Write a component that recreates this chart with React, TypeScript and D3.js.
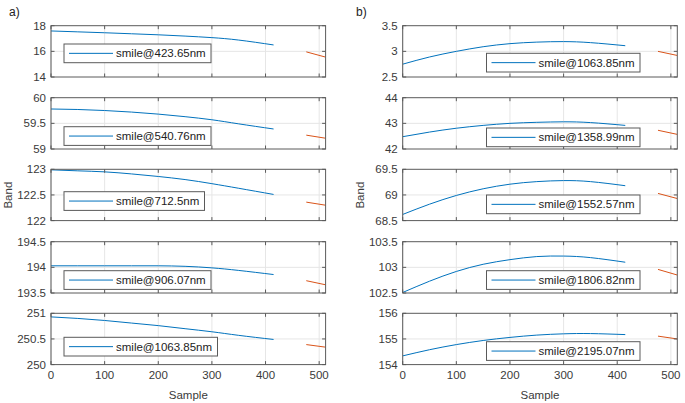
import React from "react";
import * as d3 from "d3";

// ---- data ----
const blueSamples = [0, 50, 100, 150, 200, 250, 300, 350, 415];
const orangeSamples = [476, 512];

const leftLabels = ["smile@423.65nm", "smile@540.76nm", "smile@712.5nm", "smile@906.07nm", "smile@1063.85nm"];
const rightLabels = ["smile@1063.85nm", "smile@1358.99nm", "smile@1552.57nm", "smile@1806.82nm", "smile@2195.07nm"];

const leftDomains = [[14, 18], [59, 60], [122, 123], [193.5, 194.5], [250, 251]];
const rightDomains = [[2.5, 3.5], [42, 44], [68.5, 69.5], [102.5, 103.5], [154, 156]];

const leftTicks = [["14", "16", "18"], ["59", "59.5", "60"], ["122", "122.5", "123"], ["193.5", "194", "194.5"], ["250", "250.5", "251"]];
const rightTicks = [["2.5", "3", "3.5"], ["42", "43", "44"], ["68.5", "69", "69.5"], ["102.5", "103", "103.5"], ["154", "155", "156"]];

const leftBlue = [
  [17.59, 17.52, 17.45, 17.37, 17.29, 17.19, 17.07, 16.88, 16.5],
  [59.78, 59.77, 59.75, 59.72, 59.68, 59.63, 59.57, 59.49, 59.39],
  [122.99, 122.97, 122.95, 122.91, 122.86, 122.8, 122.72, 122.63, 122.51],
  [194.03, 194.03, 194.03, 194.03, 194.03, 194.02, 193.99, 193.94, 193.86],
  [250.93, 250.9, 250.86, 250.81, 250.76, 250.7, 250.64, 250.57, 250.49],
];
const rightBlue = [
  [2.75, 2.89, 3.0, 3.09, 3.15, 3.18, 3.19, 3.17, 3.11],
  [42.48, 42.66, 42.81, 42.92, 43.0, 43.04, 43.06, 43.03, 42.92],
  [68.62, 68.82, 68.99, 69.12, 69.21, 69.26, 69.28, 69.26, 69.18],
  [102.51, 102.73, 102.92, 103.06, 103.15, 103.21, 103.22, 103.19, 103.1],
  [154.34, 154.58, 154.78, 154.94, 155.06, 155.15, 155.2, 155.21, 155.17],
];
const leftOrange = [[15.96, 15.55], [59.27, 59.21], [122.36, 122.3], [193.74, 193.66], [250.39, 250.34]];
const rightOrange = [[3.0, 2.92], [42.73, 42.57], [69.03, 68.93], [102.96, 102.85], [155.11, 155.0]];

const xTicks = [0, 100, 200, 300, 400, 500];
const xDomain = [0, 512];

// ---- layout ----
const W = 685, H = 403;
const tops = [25.7, 97.7, 169.3, 241.7, 313.3];
const plotH = 51.3;
const FONT = "'Liberation Sans', Arial, Helvetica, sans-serif";
const BLUE = "#0072BD";
const ORANGE = "#D95319";
const AXIS = "#5a5a5a";
const TXT = "#3a3a3a";
const GRID = "#e6e6e6";

const columns = [
  { x0: 51, x1: 325.6, labels: leftLabels, domains: leftDomains, ticks: leftTicks, blue: leftBlue, orange: leftOrange,
    legendX: 64, legendY: [44, 126.7, 191.7, 270.7, 337.3], tag: "a)", tagX: 9, bandX: 12 },
  { x0: 402.7, x1: 677.3, labels: rightLabels, domains: rightDomains, ticks: rightTicks, blue: rightBlue, orange: rightOrange,
    legendX: 486.5, legendY: [53.3, 128, 195, 270.7, 341.7], tag: "b)", tagX: 356, bandX: 364 },
];

function Panel({ col, i }: any) {
  const top = tops[i];
  const x = d3.scaleLinear().domain(xDomain).range([col.x0, col.x1]);
  const dom = col.domains[i];
  const y = d3.scaleLinear().domain(dom).range([top + plotH, top]);
  const yVals = [dom[0], (dom[0] + dom[1]) / 2, dom[1]];
  const line = d3.line<[number, number]>().x(d => x(d[0])).y(d => y(d[1])).curve(d3.curveNatural);
  const bluePts: [number, number][] = blueSamples.map((s, k) => [s, col.blue[i][k]]);
  const orangePts: [number, number][] = orangeSamples.map((s, k) => [s, col.orange[i][k]]);
  const clipId = `clip-${col.tag[0]}-${i}`;
  const label = col.labels[i];
  const lw = 56 + 6.5 * label.length;
  const lx = col.legendX, ly = col.legendY[i], lh = 18.7;
  const tl = 3.5;
  return (
    <g>
      <defs>
        <clipPath id={clipId}>
          <rect x={col.x0} y={top} width={col.x1 - col.x0} height={plotH} />
        </clipPath>
      </defs>
      {xTicks.map(t => (
        <line key={"gx" + t} x1={x(t)} x2={x(t)} y1={top} y2={top + plotH} stroke={GRID} strokeWidth={1} />
      ))}
      <line x1={col.x0} x2={col.x1} y1={y(yVals[1])} y2={y(yVals[1])} stroke={GRID} strokeWidth={1} />
      <g clipPath={`url(#${clipId})`}>
        <path d={line(bluePts) || ""} fill="none" stroke={BLUE} strokeWidth={1} />
        <path d={line(orangePts) || ""} fill="none" stroke={ORANGE} strokeWidth={1} />
      </g>
      <rect x={col.x0} y={top} width={col.x1 - col.x0} height={plotH} fill="none" stroke={AXIS} strokeWidth={1} />
      {xTicks.map(t => (
        <g key={"tx" + t}>
          <line x1={x(t)} x2={x(t)} y1={top + plotH} y2={top + plotH - tl} stroke={AXIS} />
          <line x1={x(t)} x2={x(t)} y1={top} y2={top + tl} stroke={AXIS} />
        </g>
      ))}
      {yVals.map((v, k) => (
        <g key={"ty" + k}>
          <line x1={col.x0} x2={col.x0 + tl} y1={y(v)} y2={y(v)} stroke={AXIS} />
          <line x1={col.x1} x2={col.x1 - tl} y1={y(v)} y2={y(v)} stroke={AXIS} />
          <text x={col.x0 - 5} y={y(v)} dy="0.35em" textAnchor="end" fontSize={11.5} fill={TXT} fontFamily={FONT}>
            {col.ticks[i][k]}
          </text>
        </g>
      ))}
      {i === 4 && xTicks.map(t => (
        <text key={"xl" + t} x={x(t)} y={top + plotH + 14} textAnchor="middle" fontSize={11.5} fill={TXT} fontFamily={FONT}>
          {t}
        </text>
      ))}
      <rect x={lx} y={ly} width={lw} height={lh} fill="#fff" stroke={AXIS} strokeWidth={1} />
      <line x1={lx + 5} x2={lx + 49} y1={ly + lh / 2} y2={ly + lh / 2} stroke={BLUE} strokeWidth={1} />
      <text x={lx + 52} y={ly + lh / 2} dy="0.36em" fontSize={11.5} fill="#222" fontFamily={FONT}>{label}</text>
    </g>
  );
}

export default function App() {
  return (
    <svg width={W} height={H} style={{ position: "absolute", left: 0, top: 0, background: "#fff" }}>
      <rect x={0} y={0} width={W} height={H} fill="#fff" />
      {columns.map(col => (
        <g key={col.tag}>
          {[0, 1, 2, 3, 4].map(i => <Panel key={i} col={col} i={i} />)}
          <text x={col.tagX} y={16} fontSize={12} fill="#222" fontFamily={FONT}>{col.tag}</text>
          <text transform={`translate(${col.bandX},${(tops[0] + tops[4] + plotH) / 2}) rotate(-90)`} textAnchor="middle"
            fontSize={11.5} fill={TXT} fontFamily={FONT}>Band</text>
          <text x={(col.x0 + col.x1) / 2} y={399} textAnchor="middle" fontSize={11.5} fill={TXT} fontFamily={FONT}>Sample</text>
        </g>
      ))}
    </svg>
  );
}
